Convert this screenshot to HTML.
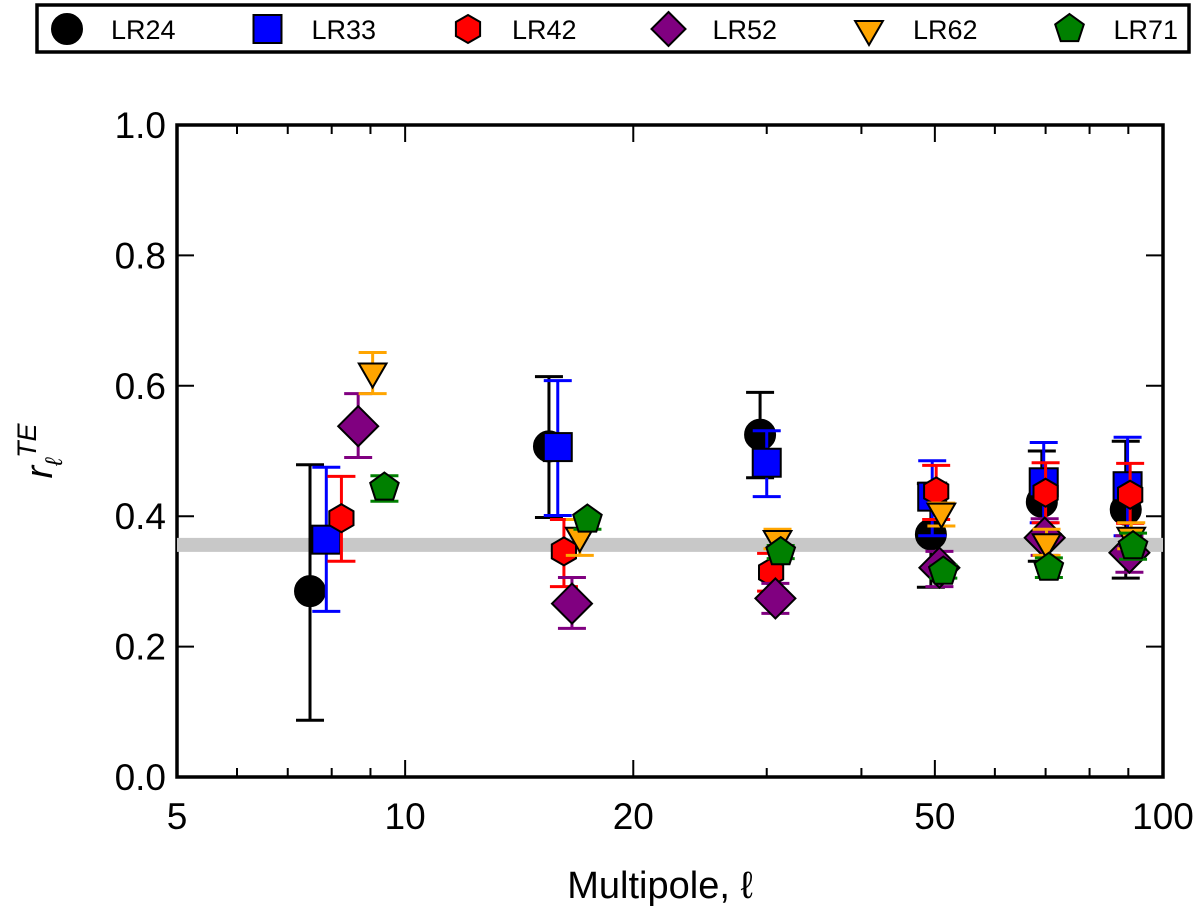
<!DOCTYPE html>
<html><head><meta charset="utf-8"><style>
html,body{margin:0;padding:0;background:#fff;}
svg{display:block;font-family:"Liberation Sans","DejaVu Sans",sans-serif;}
</style></head><body>
<svg id="chart" width="1200" height="918" viewBox="0 0 1200 918">
<g id="legend"></g>
<g id="axes"></g>
<g id="plot"></g>
</svg>
<script>
const seriesNames = ["LR24","LR33","LR42","LR52","LR62","LR71"];
const ellLR24 = [7.49,15.48,29.4,49.4,69.2,89.3];
const ellLR33 = [7.87,15.9,30.0,49.6,69.6,89.8];
const ellLR42 = [8.24,16.2,30.4,50.2,70.0,90.5];
const ellLR52 = [8.67,16.6,30.8,50.7,69.8,90.3];
const ellLR62 = [9.06,17.0,31.0,51.0,70.2,90.8];
const ellLR71 = [9.39,17.4,31.3,51.3,70.7,91.3];
const valLR24 = [0.285,0.507,0.525,0.372,0.422,0.410];
const valLR33 = [0.364,0.506,0.482,0.430,0.452,0.446];
const valLR42 = [0.397,0.346,0.314,0.438,0.436,0.433];
const valLR52 = [0.538,0.266,0.274,0.321,0.367,0.344];
const valLR62 = [0.622,0.370,0.365,0.407,0.360,0.370];
const valLR71 = [0.444,0.395,0.345,0.315,0.321,0.354];
const loLR24 = [0.087,0.398,0.459,0.291,0.331,0.305];
const hiLR24 = [0.479,0.614,0.590,0.450,0.500,0.515];
const loLR33 = [0.254,0.401,0.430,0.370,0.390,0.370];
const hiLR33 = [0.475,0.608,0.531,0.485,0.513,0.521];
const loLR42 = [0.331,0.292,0.285,0.395,0.390,0.389];
const hiLR42 = [0.461,0.395,0.343,0.478,0.482,0.481];
const loLR52 = [0.490,0.228,0.251,0.292,0.340,0.314];
const hiLR52 = [0.588,0.306,0.297,0.346,0.396,0.370];
const loLR62 = [0.588,0.340,0.350,0.385,0.340,0.350];
const hiLR62 = [0.651,0.395,0.380,0.420,0.380,0.390];
const loLR71 = [0.423,0.380,0.335,0.305,0.306,0.334];
const hiLR71 = [0.462,0.400,0.355,0.325,0.336,0.374];
const yTicks = [0.0,0.2,0.4,0.6,0.8,1.0];
const yTickLabels = ["0.0","0.2","0.4","0.6","0.8","1.0"];
const xMajor = [5,10,20,50,100];
const xMajorLabels = ["5","10","20","50","100"];
const xMinor = [6,7,8,9,30,40,60,70,80,90];
const bandValue = 0.356;

const colors = ["#000000","#0000ff","#ff0000","#800080","#ffa500","#008000"];
const shapes = ["circle","square","hexagon","diamond","triangle","pentagon"];
const ells=[ellLR24,ellLR33,ellLR42,ellLR52,ellLR62,ellLR71];
const vals=[valLR24,valLR33,valLR42,valLR52,valLR62,valLR71];
const los=[loLR24,loLR33,loLR42,loLR52,loLR62,loLR71];
const his=[hiLR24,hiLR33,hiLR42,hiLR52,hiLR62,hiLR71];

const L=177,R=1163,T=125,B=777;
const xScale=v=>L+(R-L)*Math.log10(v/5)/Math.log10(20);
const yScale=v=>B-(B-T)*v;
const NS="http://www.w3.org/2000/svg";
function mk(tag,parent,attrs){const e=document.createElementNS(NS,tag);for(const k in attrs)e.setAttribute(k,attrs[k]);parent.appendChild(e);return e;}
function polyPts(cx,cy,r,n,rot){let p=[];for(let i=0;i<n;i++){const a=rot+i*2*Math.PI/n;p.push((cx+r*Math.cos(a)).toFixed(1)+","+(cy+r*Math.sin(a)).toFixed(1));}return p.join(" ");}
function marker(parent,shape,cx,cy,col,s){
  let e;
  if(shape==="circle") e=mk("circle",parent,{cx:cx,cy:cy,r:15*s});
  else if(shape==="square") e=mk("rect",parent,{x:cx-14*s,y:cy-14*s,width:28*s,height:28*s});
  else if(shape==="hexagon") e=mk("polygon",parent,{points:polyPts(cx,cy,14*s,6,-Math.PI/2)});
  else if(shape==="diamond") e=mk("polygon",parent,{points:polyPts(cx,cy,20*s,4,-Math.PI/2)});
  else if(shape==="triangle") e=mk("polygon",parent,{points:polyPts(cx,cy,16*s,3,Math.PI/2)});
  else e=mk("polygon",parent,{points:polyPts(cx,cy,15*s,5,-Math.PI/2)});
  e.setAttribute("fill",col);e.setAttribute("stroke","#000");e.setAttribute("stroke-width",2);
  return e;
}
const plot=document.getElementById("plot");
const axes=document.getElementById("axes");
const band=mk("rect",plot,{x:L,y:yScale(bandValue)-7,width:R-L,height:14,fill:"#c8c8c8"});


for(let s=0;s<6;s++){
  const g=mk("g",plot,{});
  
  
  for(let i=0;i<ells[s].length;i++){
    const x=xScale(ells[s][i]);
    const eg=mk("g",g,{stroke:colors[s],"stroke-width":3});
    
    
    mk("line",eg,{x1:x,x2:x,y1:yScale(los[s][i]),y2:yScale(his[s][i])});
    mk("line",eg,{x1:x-14,x2:x+14,y1:yScale(los[s][i]),y2:yScale(los[s][i])});
    mk("line",eg,{x1:x-14,x2:x+14,y1:yScale(his[s][i]),y2:yScale(his[s][i])});
  }
  for(let i=0;i<ells[s].length;i++){
    const m=marker(g,shapes[s],xScale(ells[s][i]),yScale(vals[s][i]),colors[s],1);
    
    
  }
}
const fr=mk("rect",axes,{x:L,y:T,width:R-L,height:B-T,fill:"none",stroke:"#000","stroke-width":3.5});


for(let i=0;i<yTicks.length;i++){
  const y=yScale(yTicks[i]);
  mk("line",axes,{x1:L,x2:L+17,y1:y,y2:y,stroke:"#000","stroke-width":2});
  mk("line",axes,{x1:R-17,x2:R,y1:y,y2:y,stroke:"#000","stroke-width":2});
  const t=mk("text",axes,{x:L-11,y:y+13,"text-anchor":"end","font-size":37});
  t.textContent=yTickLabels[i];
  
  
}
for(let i=0;i<xMajor.length;i++){
  const x=xScale(xMajor[i]);
  mk("line",axes,{x1:x,x2:x,y1:B,y2:B-17,stroke:"#000","stroke-width":2});
  mk("line",axes,{x1:x,x2:x,y1:T,y2:T+17,stroke:"#000","stroke-width":2});
  const t=mk("text",axes,{x:x,y:B+52,"text-anchor":"middle","font-size":37});
  t.textContent=xMajorLabels[i];
  
  
}
for(const v of xMinor){
  const x=xScale(v);
  mk("line",axes,{x1:x,x2:x,y1:B,y2:B-9,stroke:"#000","stroke-width":2});
  mk("line",axes,{x1:x,x2:x,y1:T,y2:T+9,stroke:"#000","stroke-width":2});
}
const xl=mk("text",axes,{x:(L+R)/2-10,y:898,"text-anchor":"middle","font-size":38});
xl.textContent="Multipole, ℓ";


const yl=mk("text",axes,{transform:"translate(52,451) rotate(-90)","text-anchor":"middle","font-size":38,"font-style":"italic"});
yl.innerHTML='r<tspan dy="10" font-size="24">ℓ</tspan><tspan dy="-26" font-size="27">TE</tspan>';


const lg=document.getElementById("legend");
const box=mk("rect",lg,{x:37,y:5,width:1152,height:47,fill:"#fff",stroke:"#000","stroke-width":3.5});


for(let s=0;s<6;s++){
  const x0=67+s*200.5;
  const eg=mk("g",lg,{});
  
  
  marker(eg,shapes[s],x0,29,colors[s],s===3?0.85:1);
  const t=mk("text",eg,{x:x0+44,y:39,"font-size":27});
  t.textContent=seriesNames[s];
}
</script>
</body></html>
